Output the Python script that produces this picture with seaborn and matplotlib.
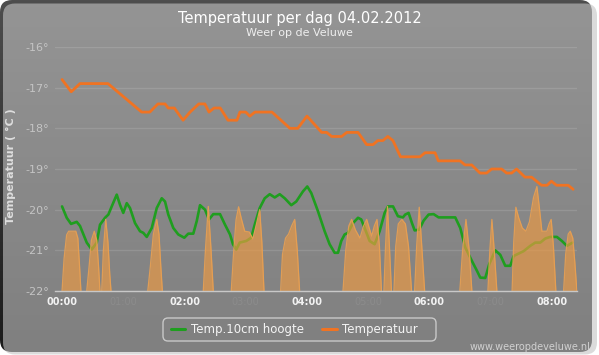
import numpy as np
import pandas as pd
import matplotlib
matplotlib.use("Agg")
import matplotlib.pyplot as plt
import seaborn as sns
from matplotlib.patches import FancyBboxPatch
from matplotlib.colors import LinearSegmentedColormap
from matplotlib.lines import Line2D

# ---------------- data (time in minutes after 00:00) ----------------
temp_t = [0, 3, 9, 17.6, 45, 78, 86, 94, 101, 104, 110, 118.6, 125.4, 134, 140,
          144, 149, 155, 162.6, 171.4, 174.3, 180, 184, 189, 205.7, 223.3, 231, 240,
          254.4, 259.3, 264.2, 274, 279, 290, 298.5, 304.7, 309.5, 314.4, 319.2, 324.2,
          331.7, 350.8, 355.7, 365.5, 368.7, 390, 394.9, 401.4, 409.6, 416, 421, 430.7,
          435.6, 440.5, 445.4, 453.6, 460, 469.9, 475.2, 479.6, 484.5, 495.9, 500.8]
temp_v = [-16.8, -16.9, -17.1, -16.9, -16.9, -17.6, -17.6, -17.4, -17.4, -17.5, -17.5,
          -17.8, -17.6, -17.4, -17.4, -17.6, -17.5, -17.5, -17.8, -17.8, -17.6, -17.6,
          -17.7, -17.6, -17.6, -18.0, -18.0, -17.7, -18.1, -18.1, -18.2, -18.2, -18.1,
          -18.1, -18.4, -18.4, -18.3, -18.3, -18.2, -18.3, -18.7, -18.7, -18.6, -18.6,
          -18.8, -18.8, -18.9, -18.9, -19.1, -19.1, -19.0, -19.0, -19.1, -19.1, -19.0,
          -19.2, -19.2, -19.4, -19.4, -19.3, -19.4, -19.4, -19.5]

soil_t = [0, 4.6, 8.8, 14.4, 17.6, 24.2, 29.1, 34, 37.2, 42.1,
          45.4, 48.7, 53.6, 56.8, 60, 63.4, 66.6, 71.5, 76.4, 79.6,
          83, 87.9, 92.8, 97.7, 100.9, 104.1, 109, 113.9, 119.8, 123.7,
          128.6, 132, 135.2, 140.1, 144, 148.2, 154.8, 159.7, 164.6, 167.5,
          170.7, 174.1, 180.5, 185.4, 188.8, 193.7, 198.6, 203.5, 208.4, 213.3,
          218.2, 224.6, 229.5, 236.1, 240.3, 244.2, 250.8, 257.3, 262.2, 267.1,
          270.4, 273.6, 276.9, 280.2, 285.1, 290, 293.2, 296.5, 301.4, 306.3,
          311.2, 316.1, 319.4, 324.3, 329.1, 334, 336.3, 339.6, 342.9, 345.5,
          350, 354.3, 359.2, 364.1, 369, 385.3, 390.2, 395.1, 401.6, 406.5,
          409.8, 414.7, 418.6, 424.5, 429.4, 434.3, 439.2, 442.5, 447.4, 452.3,
          458.8, 463.7, 468.6, 473.5, 478.4, 484.9, 489.8, 494.7, 500.3]
soil_v = [-19.92, -20.2, -20.35, -20.3, -20.4, -20.81, -20.98, -20.81, -20.37, -20.2,
          -20.12, -19.92, -19.63, -19.88, -20.08, -19.84, -19.96, -20.33, -20.53, -20.57,
          -20.67, -20.45, -19.96, -19.72, -19.8, -20.12, -20.45, -20.61, -20.69, -20.59,
          -20.59, -20.28, -19.89, -20.0, -20.24, -20.11, -20.11, -20.37, -20.61, -20.85,
          -20.98, -20.81, -20.77, -20.69, -20.37, -19.96, -19.72, -19.62, -19.7, -19.62,
          -19.72, -19.89, -19.8, -19.55, -19.43, -19.59, -20.04, -20.53, -20.85, -21.06,
          -21.06, -20.77, -20.61, -20.57, -20.33, -20.2, -20.24, -20.45, -20.77, -20.85,
          -20.53, -20.08, -19.92, -19.92, -20.16, -20.19, -20.12, -20.08, -20.33, -20.51,
          -20.49, -20.27, -20.12, -20.11, -20.19, -20.19, -20.45, -20.93, -21.26, -21.5,
          -21.67, -21.68, -21.34, -21.0, -21.11, -21.38, -21.38, -21.14, -21.08, -21.02,
          -20.89, -20.81, -20.81, -20.71, -20.67, -20.67, -20.77, -20.89, -20.81]

area_t = [0, 2, 4.5, 6.5, 13.5, 15.5, 17.2, 18.5,
          24.2, 26.5, 28.8, 31.6, 34, 35.8, 37.2,
          38.9, 40.5, 42.8, 45, 46.8, 48,
          84, 86.5, 89.5, 92.8, 95, 96.8, 98.3,
          138.4, 140.5, 143.3, 145.8, 148.2,
          165.8, 168, 170.5, 173, 175.5, 179, 183.5, 187, 190.5, 193.7, 195.8, 197.9,
          214.2, 216, 219, 222, 225, 228, 230.5, 232.8,
          275.3, 278, 281, 283.8, 287.5, 291.9, 295.5, 298.5, 301, 303.4, 306, 308.6, 311, 313,
          315.4, 317, 318.9, 320.8, 322.8,
          325.2, 327, 329.5, 333, 336.5, 339.5, 342.5,
          345.5, 347.5, 350, 352.5, 355.3,
          389.8, 392.5, 395.8, 399, 401.6,
          417.3, 419.2, 421.2, 423.5, 426.1,
          441, 442.6, 444.7, 447.5, 451, 454.5, 458, 462, 465.3, 467.5, 470.2, 475.1, 477.3,
          479.3, 481.5, 483.9,
          491.5, 493.5, 496, 498, 500.5, 502.5, 504.5]
area_v = [-22, -21.2, -20.62, -20.53, -20.53, -20.7, -21.4, -22,
          -22, -21.4, -20.75, -20.53, -20.75, -21.4, -22,
          -22, -21.0, -20.24, -20.8, -21.6, -22,
          -22, -21.4, -20.6, -20.24, -20.6, -21.4, -22,
          -22, -21.0, -19.92, -20.9, -22,
          -22, -21.1, -20.25, -19.93, -20.2, -20.53, -20.55, -20.72, -20.35, -20.0, -20.8, -22,
          -22, -21.1, -20.7, -20.6, -20.4, -20.24, -21.0, -22,
          -22, -21.0, -20.4, -20.24, -20.5, -20.7, -20.4, -20.24, -20.45, -20.65, -20.4, -20.24, -20.9, -22,
          -22, -20.9, -19.92, -20.9, -22,
          -22, -20.9, -20.35, -20.24, -20.35, -20.9, -22,
          -22, -20.9, -19.94, -20.9, -22,
          -22, -21.0, -20.24, -21.0, -22,
          -22, -21.0, -20.24, -21.0, -22,
          -22, -20.8, -19.94, -20.2, -20.45, -20.53, -20.3, -19.7, -19.43, -19.9, -20.53, -20.53, -20.35,
          -20.24, -20.9, -22,
          -22, -21.1, -20.6, -20.53, -20.7, -21.3, -22]

hour_ticks = [0, 60, 120, 180, 240, 300, 360, 420, 480]
hour_labels = ["00:00", "01:00", "02:00", "03:00", "04:00", "05:00", "06:00", "07:00", "08:00"]
y_ticks = [-22, -21, -20, -19, -18, -17, -16]

title = "Temperatuur per dag 04.02.2012"
subtitle = "Weer op de Veluwe"
series_names = ["Temp.10cm hoogte", "Temperatuur"]

GREEN = "#1f9e1f"
ORANGE = "#f07322"

# ---------------- style ----------------
sns.set_style("dark")
plt.rcParams["font.family"] = ["DejaVu Sans"]

W, H = 599, 355
fig = plt.figure(figsize=(W / 100, H / 100), dpi=100, facecolor="white")

# background with rounded corners and gradient
bg = fig.add_axes([0, 0, 1, 1])
bg.set_xlim(0, W)
bg.set_ylim(0, H)
bg.set_axis_off()
shadow = FancyBboxPatch((3, 0.5), 594, 351, boxstyle="round,pad=0,rounding_size=12",
                        facecolor="#c4c4c4", edgecolor="none", alpha=0.6)
bg.add_patch(shadow)
cmap = LinearSegmentedColormap.from_list("g", ["#4e4e4e", "#333333", "#1b1b1b"])
grad = np.linspace(0, 1, 256)[:, None]
im = bg.imshow(grad, aspect="auto", cmap=cmap, extent=[0, 592, 3, H], origin="upper")
clip = FancyBboxPatch((0, 3), 592, H - 3, boxstyle="round,pad=0,rounding_size=12",
                      facecolor="none", edgecolor="none")
bg.add_patch(clip)
im.set_clip_path(clip)

# main plot
ax = fig.add_axes([55 / W, 64 / H, 522 / W, 244 / H])
ax.patch.set_alpha(0)
ax.set_axisbelow(True)

sns.lineplot(x=soil_t, y=soil_v, ax=ax, color=GREEN, lw=1.9, sort=False,
             zorder=2, solid_joinstyle="round", solid_capstyle="round")
ax.fill_between(area_t, area_v, -22, color="#ee9a42", alpha=0.66, lw=0, zorder=3)

# outline of each area hump (skip the stretches lying on the base line)
at = np.asarray(area_t, dtype=float)
av = np.asarray(area_v, dtype=float)
start = 0
for i in range(1, len(at) + 1):
    if i == len(at) or (av[i - 1] == -22 and av[i] == -22):
        if i - start > 1:
            ax.plot(at[start:i], av[start:i], color="#e9a052", lw=0.9, alpha=0.9, zorder=3.1)
        start = i

sns.lineplot(x=temp_t, y=temp_v, ax=ax, color=ORANGE, lw=2.0, sort=False,
             zorder=4, solid_joinstyle="round", solid_capstyle="round")

ax.set_xlim(-6.9, 504.6)
ax.set_ylim(-22, -16)
ax.set_xlabel("")
ax.set_ylabel("")

ax.set_yticks(y_ticks)
ax.set_yticklabels([f"{v}\u00b0" for v in y_ticks], fontsize=8, color="#c4c4c4")
ax.tick_params(axis="y", length=0, pad=4.5)
ax.yaxis.grid(True, color="white", alpha=0.12, lw=1)
ax.xaxis.grid(False)

ax.set_xticks(hour_ticks)
ax.set_xticklabels(hour_labels)
for i, lab in enumerate(ax.get_xticklabels()):
    if i % 2 == 0:
        lab.set_fontweight("bold")
        lab.set_color("#f2f2f2")
    else:
        lab.set_color("#8c8c8c")
    lab.set_fontsize(7)
ax.tick_params(axis="x", length=3, width=1, color="#c0c0c0", pad=1, direction="out")

for s in ["top", "right", "left"]:
    ax.spines[s].set_visible(False)
ax.spines["bottom"].set_color("#c8c8c8")
ax.spines["bottom"].set_linewidth(1)
ax.spines["bottom"].set_zorder(5)

# texts
fig.text(299.5 / W, 1 - 18 / H, title, ha="center", va="center", color="white", fontsize=10.5)
fig.text(299.5 / W, 1 - 33 / H, subtitle, ha="center", va="center", color="#eeeeee", fontsize=8)
fig.text(10.5 / W, 1 - 166 / H, "Temperatuur ( \u00b0C )", rotation=90, ha="center", va="center",
         color="#dedede", fontsize=8, fontweight="bold")
fig.text(590 / W, 8 / H, "www.weeropdeveluwe.nl", ha="right", va="center", color="#d0d0d0",
         fontsize=7)

# legend
box = FancyBboxPatch((163, H - 341), 273, 23, boxstyle="round,pad=0,rounding_size=5",
                     facecolor="none", edgecolor="#c8c8c8", lw=1)
bg.add_patch(box)
handles = [Line2D([0], [0], color=GREEN, lw=2.2), Line2D([0], [0], color=ORANGE, lw=2.2)]
leg = fig.legend(handles, series_names, loc="center left", bbox_to_anchor=(171 / W, 1 - 329.5 / H),
                 ncol=2, frameon=False, fontsize=8.5, handlelength=1.2, handletextpad=0.5,
                 columnspacing=1.55, borderpad=0, borderaxespad=0)
for t in leg.get_texts():
    t.set_color("#f4f4f4")

fig.savefig("out.png", dpi=100, facecolor="white")
